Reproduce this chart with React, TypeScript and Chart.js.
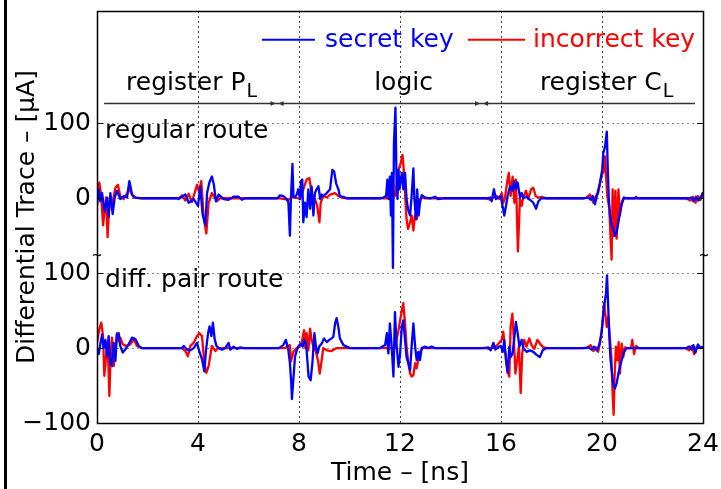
import React, { useEffect, useRef } from "react";
import { Chart, registerables } from "chart.js";

Chart.register(...registerables);

// ---------------- DATA (time in ns, differential trace in µA) ----------------
// regular route (upper trace), secret key (blue)
const regularSecret: [number, number][] = [
  [0, -10], [0.07, 12], [0.13, -4], [0.2, 7], [0.3, -17], [0.4, 1], [0.46, -25], [0.53, 7], [0.62, -21], [0.7, 1],
  [0.79, 10], [0.92, -1], [1.06, 3], [1.19, 1], [1.28, 23], [1.39, 5], [1.52, 1], [1.78, 0],
  [3.17, 0], [3.23, -1], [3.5, 5], [3.63, -6], [3.83, -1], [4.0, -10], [4.09, 16], [4.18, -21], [4.29, -36], [4.36, 7],
  [4.45, 21], [4.55, 29], [4.63, 18], [4.71, -4], [4.82, 5], [5.02, -1], [5.21, -2], [5.41, 2], [5.61, 2], [5.74, -2], [5.87, 0],
  [7.15, 0], [7.25, 4], [7.38, 3], [7.51, -1], [7.58, -6], [7.64, -50], [7.68, -1], [7.74, 46], [7.78, 3], [7.84, 1],
  [7.91, 5], [7.97, 12], [8.04, -1], [8.08, 23], [8.13, 25], [8.17, -32], [8.24, -6], [8.3, -25], [8.37, 12], [8.44, -14],
  [8.5, 16], [8.57, -23], [8.63, 7], [8.7, 12], [8.77, 16], [8.84, -1], [8.9, 5], [8.96, 3], [9.1, 7], [9.23, 12],
  [9.32, 38], [9.39, 36], [9.47, 20], [9.56, 12], [9.62, 3], [9.75, 2], [9.89, 0],
  [11.21, 0], [11.34, 1], [11.45, 3], [11.5, 25], [11.55, -1], [11.6, 29], [11.64, -23], [11.68, 34], [11.72, -93],
  [11.76, 73], [11.82, 121], [11.86, 29], [11.9, -1], [11.94, 38], [11.98, 12], [12.03, 25], [12.08, 34], [12.13, 12],
  [12.2, 34], [12.26, -1], [12.32, -15], [12.4, -23], [12.46, 3], [12.53, 40], [12.57, -1], [12.63, -28], [12.68, 12],
  [12.74, -23], [12.79, -6], [12.86, 4], [12.99, 1], [13.2, 0], [13.4, 2], [13.5, -1], [13.7, 0],
  [15.43, 0], [15.56, 1], [15.63, -4], [15.72, 12], [15.8, -1], [15.89, 1], [15.99, 3], [16.06, -10], [16.13, -23],
  [16.2, -10], [16.26, 3], [16.36, 16], [16.45, 10], [16.53, 23], [16.59, 12], [16.66, 21], [16.75, 1], [16.82, 7],
  [16.88, 0], [17.01, 2], [17.15, -2], [17.28, -6], [17.39, -14], [17.48, -4], [17.61, 0],
  [19.26, 0], [19.46, 1], [19.55, -2], [19.63, 3], [19.72, -8], [19.81, 5], [19.92, 21], [20.01, 38], [20.05, 60],
  [20.12, 69], [20.19, 89], [20.23, 38], [20.27, -1], [20.32, -23], [20.38, -36], [20.45, -41], [20.51, -50],
  [20.58, -45], [20.65, -32], [20.71, -19], [20.78, -8], [20.87, 1], [20.98, 0],
  [23.4, 0], [23.55, 1], [23.62, -4], [23.72, 2], [23.82, -3], [23.9, 1], [23.96, 5], [24, 8],
];

// regular route (upper trace), incorrect key (red)
const regularWrong: [number, number][] = [
  [0, 12], [0.09, 21], [0.16, 5], [0.24, -36], [0.36, 1], [0.42, -52], [0.49, -5], [0.59, -10], [0.73, 14], [0.83, 18],
  [0.92, 3], [1.06, -1], [1.28, 12], [1.45, 1], [1.78, 0],
  [3.23, 0], [3.37, 4], [3.5, -3], [3.63, 6], [3.76, -5], [3.96, 18], [4.04, 8], [4.13, 23], [4.22, -23], [4.33, -47],
  [4.42, -6], [4.55, 7], [4.75, -4], [4.88, 0],
  [7.25, 0], [7.6, -2], [7.75, 2], [8.04, -1], [8.17, 12], [8.3, 25], [8.41, 27], [8.5, 7], [8.63, -1], [8.72, -10],
  [8.81, -32], [8.86, -6], [8.96, 3], [9.1, 1], [9.23, 5], [9.43, 7], [9.56, 3], [9.69, 1], [9.89, 0],
  [11.3, 0], [11.6, 0], [11.8, 3], [11.94, 38], [12.03, 47], [12.1, 58], [12.16, 34], [12.21, -1], [12.26, -28],
  [12.32, -41], [12.4, -32], [12.46, -23], [12.53, -43], [12.59, -23], [12.66, -28], [12.72, -15], [12.79, -1],
  [12.86, 1], [13.0, 0],
  [15.4, 0], [15.56, -2], [15.83, 3], [15.93, -1], [16.03, 7], [16.09, -6], [16.16, 1], [16.25, 23], [16.31, 34],
  [16.38, 3], [16.46, 29], [16.53, -6], [16.59, 25], [16.67, -71], [16.75, -1], [16.82, -10], [16.88, 1], [16.99, 10],
  [17.08, -1], [17.19, 12], [17.28, 14], [17.37, 3], [17.48, 1], [17.61, 2], [17.81, 0],
  [19.26, 0], [19.39, 1], [19.52, 5], [19.66, -6], [19.76, 3], [19.85, 7], [19.99, 32], [20.05, 34], [20.12, 56],
  [20.16, 29], [20.21, 3], [20.29, -14], [20.34, -54], [20.38, -82], [20.42, 12], [20.47, -50], [20.53, 10],
  [20.58, -54], [20.65, 12], [20.71, -23], [20.78, -6], [20.84, 0], [21.3, 0], [21.35, 2], [21.4, 0],
  [23.3, 0], [23.5, -3], [23.6, 2], [23.7, -6], [23.8, 3], [23.9, -2], [24, 5],
];

// differential pair route (lower trace), secret key (blue)
const diffSecret: [number, number][] = [
  [0, -2], [0.07, -8], [0.13, 5], [0.2, 18], [0.26, 0], [0.33, 11], [0.4, -11], [0.46, 16], [0.53, -20], [0.59, -24],
  [0.66, 7], [0.73, -17], [0.79, 18], [0.86, 20], [0.92, 3], [1.02, -6], [1.12, -2], [1.25, 5], [1.39, 14], [1.52, 12],
  [1.65, 3], [1.78, 0],
  [3.37, 0], [3.43, 3], [3.56, -2], [3.7, -3], [3.83, 0], [3.96, 7], [4.05, -4], [4.16, -15], [4.25, -31], [4.32, -2],
  [4.4, 20], [4.46, 29], [4.53, 16], [4.59, 34], [4.66, 12], [4.73, 3], [4.82, 0], [4.95, -2], [5.08, 0], [5.21, 7],
  [5.28, -2], [5.41, 2], [5.54, -1], [5.68, 1], [5.81, 0],
  [7.2, 0], [7.38, 4], [7.48, 11], [7.58, -3], [7.64, -20], [7.69, -45], [7.72, -68], [7.78, -40], [7.84, -12],
  [7.91, -3], [7.97, 2], [8.07, 6], [8.15, 2], [8.2, 11], [8.28, 6], [8.33, -16], [8.38, -38], [8.46, -43], [8.53, -20],
  [8.61, 20], [8.67, 2], [8.74, -7], [8.8, 2], [8.9, 6], [8.99, 13], [9.1, 8], [9.2, 11], [9.29, 13], [9.36, 15],
  [9.43, 33], [9.49, 40], [9.56, 28], [9.62, 13], [9.76, 4], [9.89, 2], [10.02, 0],
  [11.21, 0], [11.41, 4], [11.48, 20], [11.54, -7], [11.6, 33], [11.67, 2], [11.74, -38], [11.8, 48], [11.87, 2],
  [11.94, -25], [12.0, -9], [12.07, 28], [12.13, 37], [12.2, 11], [12.26, -12], [12.33, -20], [12.4, -29], [12.46, 2],
  [12.53, 33], [12.6, 2], [12.66, -16], [12.73, -5], [12.79, -16], [12.86, 0], [12.99, 2], [13.12, 0], [13.25, 2],
  [13.39, 0],
  [15.3, 0], [15.5, 1], [15.59, -3], [15.7, 7], [15.78, -2], [15.89, 1], [15.99, 3], [16.07, -5], [16.13, 11],
  [16.2, -16], [16.26, -33], [16.33, 2], [16.38, -12], [16.46, -7], [16.53, 15], [16.59, 35], [16.66, 20], [16.73, 2],
  [16.82, 11], [16.88, 0], [17.01, -5], [17.15, -3], [17.28, -5], [17.41, -9], [17.54, -12], [17.65, -3], [17.81, 0],
  [19.26, 0], [19.46, 1], [19.59, -2], [19.68, 2], [19.79, -3], [19.89, 4], [19.99, 22], [20.05, 46], [20.11, 62],
  [20.16, 73], [20.2, 97], [20.24, 60], [20.29, 15], [20.34, -16], [20.4, -34], [20.45, -49], [20.51, -54],
  [20.58, -47], [20.65, -34], [20.71, -25], [20.78, -16], [20.87, -5], [20.98, 0],
  [23.35, 0], [23.45, 2], [23.55, -2], [23.62, 4], [23.7, -6], [23.8, 5], [23.9, 0], [24, 2],
];

// differential pair route (lower trace), incorrect key (red)
const diffWrong: [number, number][] = [
  [0, 7], [0.09, 25], [0.17, 34], [0.24, 16], [0.29, -37], [0.36, -11], [0.42, 9], [0.49, -64], [0.54, -11], [0.59, 14],
  [0.66, -24], [0.73, 0], [0.79, 20], [0.86, 9], [0.92, 14], [1.02, 5], [1.12, 3], [1.32, 5], [1.45, 12], [1.58, 3],
  [1.78, 0],
  [3.37, 0], [3.5, -4], [3.6, -11], [3.7, 3], [3.83, 7], [3.96, 16], [4.05, 20], [4.16, 16], [4.25, -20], [4.33, -33],
  [4.42, -24], [4.55, 3], [4.69, -4], [4.79, 0],
  [7.45, 0], [7.64, 4], [7.68, -18], [7.78, -5], [7.91, 0], [8.04, 2], [8.11, 8], [8.2, 24], [8.25, 0], [8.3, 20],
  [8.37, -3], [8.44, 26], [8.5, 11], [8.57, 2], [8.67, -5], [8.76, -18], [8.82, -34], [8.9, -16], [8.96, 0], [9.1, -3],
  [9.29, -4], [9.49, 0], [9.62, 0],
  [11.5, 0], [11.8, 0], [11.94, 24], [12.03, 42], [12.13, 60], [12.2, 33], [12.26, 2], [12.33, -20], [12.4, -34],
  [12.46, -38], [12.53, -36], [12.6, -20], [12.66, -27], [12.73, -14], [12.79, -5], [12.9, 0],
  [15.4, 0], [15.56, -1], [15.83, 3], [16.03, 11], [16.09, 22], [16.16, -3], [16.25, -29], [16.33, -38], [16.38, 28],
  [16.45, 46], [16.51, 11], [16.57, -34], [16.64, -16], [16.71, 2], [16.78, -60], [16.84, -7], [16.92, 11], [17.01, 2],
  [17.12, 13], [17.21, 4], [17.32, -1], [17.44, 11], [17.54, 6], [17.68, 1], [17.87, 0],
  [19.3, 0], [19.39, 0], [19.55, 4], [19.66, -4], [19.76, 1], [19.85, -5], [19.96, 15], [20.03, 37], [20.08, 60],
  [20.13, 46], [20.19, 28], [20.25, 42], [20.32, 11], [20.37, -12], [20.42, -60], [20.46, -89], [20.5, -38],
  [20.55, 2], [20.61, -16], [20.66, 8], [20.71, -34], [20.78, 6], [20.84, -12], [20.91, 1], [21.0, 0], [21.15, 0],
  [21.2, 11], [21.27, -8], [21.35, 3], [21.45, 0],
  [23.3, 0], [23.45, -3], [23.55, 3], [23.65, -8], [23.75, 2], [23.85, 0], [24, 1],
];

// the regular-route trace is drawn shifted up by this many µA
const regularRouteOffset = 200;

const xTickStep = 4;
const xRange = [0, 24];
const yRange = [-100, 450];
const yTickValues = [-100, 0, 100, 200, 300];
const yTickLabels = ["\u2212100", "0", "100", "0", "100"];

const seriesNames = ["secret key", "incorrect key"];
const phaseNames = [
  { text: "register P", sub: "L", t: 1.15, align: "left" },
  { text: "logic", sub: "", t: 12.14, align: "center" },
  { text: "register C", sub: "L", t: 17.54, align: "left" },
];
const routeNames = [
  { text: "regular route", t: 0.32, level: 280 },
  { text: "diff. pair route", t: 0.32, level: 82 },
];
const phaseBoundaries = [7.13, 15.23];

// ---------------- STYLE / LAYOUT ----------------
const BLUE = "#0000ff";
const RED = "#ff0000";
const FONT = "DejaVu Sans";

const overlayPlugin = {
  id: "overlay",
  afterDatasetsDraw(chart: any) {
    const { ctx, scales } = chart;
    const X = (t: number) => scales.x.getPixelForValue(t);
    const Y = (v: number) => scales.y.getPixelForValue(v);
    ctx.save();

    // phase separator line with arrows
    const lineY = Math.round(Y(327)) + 0.5;
    ctx.strokeStyle = "#333";
    ctx.fillStyle = "#333";
    ctx.lineWidth = 1.5;
    ctx.beginPath();
    ctx.moveTo(X(0.28), lineY);
    ctx.lineTo(X(23.68), lineY);
    ctx.stroke();
    for (const b of phaseBoundaries) {
      const bx = X(b);
      ctx.beginPath();
      ctx.moveTo(bx - 1.5, lineY);
      ctx.lineTo(bx - 6.5, lineY - 2.5);
      ctx.lineTo(bx - 6.5, lineY + 2.5);
      ctx.closePath();
      ctx.fill();
      ctx.beginPath();
      ctx.moveTo(bx + 1.5, lineY);
      ctx.lineTo(bx + 6.5, lineY - 2.5);
      ctx.lineTo(bx + 6.5, lineY + 2.5);
      ctx.closePath();
      ctx.fill();
    }

    // phase labels
    ctx.fillStyle = "#000";
    ctx.textBaseline = "alphabetic";
    const baseY = Y(345);
    for (const p of phaseNames) {
      ctx.font = `25px '${FONT}'`;
      const w = ctx.measureText(p.text).width;
      let x0 = X(p.t);
      if (p.align === "center") x0 -= w / 2;
      ctx.textAlign = "left";
      ctx.fillText(p.text, x0, baseY);
      if (p.sub) {
        ctx.font = `19px '${FONT}'`;
        ctx.fillText(p.sub, x0 + w + 1, baseY + 7);
      }
    }

    // route labels
    ctx.font = `25px '${FONT}'`;
    for (const r of routeNames) {
      ctx.fillText(r.text, X(r.t), Y(r.level));
    }

    // legend
    const legY = Y(411.5);
    const legText = Y(401.5);
    const entries = [
      { name: seriesNames[0], color: BLUE, l0: 6.53, l1: 8.63, tx: 9.03 },
      { name: seriesNames[1], color: RED, l0: 14.69, l1: 16.95, tx: 17.27 },
    ];
    ctx.lineWidth = 2;
    for (const e of entries) {
      ctx.strokeStyle = e.color;
      ctx.beginPath();
      ctx.moveTo(X(e.l0), legY);
      ctx.lineTo(X(e.l1), legY);
      ctx.stroke();
      ctx.fillStyle = e.color;
      ctx.fillText(e.name, X(e.tx), legText);
    }
    ctx.restore();
  },
  afterDraw(chart: any) {
    const { ctx, chartArea: a, scales } = chart;
    const Y = (v: number) => scales.y.getPixelForValue(v);
    ctx.save();
    ctx.strokeStyle = "#000";
    ctx.lineWidth = 1.5;
    ctx.strokeRect(Math.round(a.left) + 0.5, Math.round(a.top) + 0.5, Math.round(a.right - a.left), Math.round(a.bottom - a.top));
    // inward y ticks
    ctx.lineWidth = 1;
    for (const v of yTickValues) {
      const y = Math.round(Y(v)) + 0.5;
      ctx.beginPath();
      ctx.moveTo(a.left, y);
      ctx.lineTo(a.left + 6, y);
      ctx.moveTo(a.right, y);
      ctx.lineTo(a.right - 6, y);
      ctx.stroke();
    }
    // axis break marks
    ctx.fillStyle = "#000";
    ctx.font = `bold 13px '${FONT}'`;
    ctx.textAlign = "center";
    ctx.textBaseline = "middle";
    ctx.fillText("~", a.left, Y(124));
    ctx.fillText("~", a.right + 1, Y(124));
    ctx.restore();
  },
};

export default function App() {
  const ref = useRef<HTMLCanvasElement>(null);
  useEffect(() => {
    Chart.defaults.font.family = FONT;
    Chart.defaults.color = "#000";
    const mk = (pts: [number, number][], off: number) => pts.map(([t, v]) => ({ x: t, y: v + off }));
    const chart = new Chart(ref.current as HTMLCanvasElement, {
      type: "line",
      data: {
        datasets: [
          { label: seriesNames[0], data: mk(regularSecret, regularRouteOffset), borderColor: BLUE },
          { label: seriesNames[0], data: mk(diffSecret, 0), borderColor: BLUE },
          { label: seriesNames[1], data: mk(regularWrong, regularRouteOffset), borderColor: RED },
          { label: seriesNames[1], data: mk(diffWrong, 0), borderColor: RED },
        ].map((d) => ({
          ...d,
          borderWidth: 2.3,
          pointRadius: 0,
          tension: 0,
          fill: false,
          borderJoinStyle: "round" as const,
        })),
      },
      options: {
        responsive: false,
        devicePixelRatio: 1,
        animation: false,
        events: [],
        layout: { padding: { top: 11, right: 18, left: 0, bottom: 0 } },
        plugins: { legend: { display: false }, tooltip: { enabled: false } },
        scales: {
          x: {
            type: "linear",
            min: xRange[0],
            max: xRange[1],
            ticks: { stepSize: xTickStep, font: { size: 25, family: FONT }, color: "#000", padding: 6, maxRotation: 0 },
            grid: { color: "#444", lineWidth: 1, drawTicks: false },
            border: { display: false, dash: [2, 3] },
            title: { display: true, text: "Time \u2013 [ns]", font: { size: 25, family: FONT }, color: "#000", padding: { top: 0, bottom: 1 } },
            afterFit: (s: any) => {
              s.height = 66;
              s.paddingLeft = 0;
              s.paddingRight = 0;
            },
          },
          y: {
            type: "linear",
            min: yRange[0],
            max: yRange[1],
            afterBuildTicks: (s: any) => {
              s.ticks = yTickValues.map((value) => ({ value }));
            },
            ticks: {
              font: { size: 25, family: FONT },
              color: "#000",
              padding: 6,
              callback: (v: any) => {
                const i = yTickValues.indexOf(Number(v));
                return i >= 0 ? yTickLabels[i] : "";
              },
            },
            grid: { color: "#888", lineWidth: 1, drawTicks: false },
            border: { display: false, dash: [2, 3] },
            title: { display: true, text: "Differential Trace \u2013 [\u00b5A]", font: { size: 25, family: FONT }, color: "#000", padding: { top: 12, bottom: 0 } },
            afterFit: (s: any) => {
              s.width = 97;
              s.paddingTop = 0;
              s.paddingBottom = 0;
            },
          },
        },
      },
      plugins: [overlayPlugin],
    } as any);
    return () => chart.destroy();
  }, []);
  return (
    <div style={{ position: "fixed", left: 0, top: 0, width: 721, height: 489, background: "#fff", overflow: "hidden" }}>
      <canvas ref={ref} width={721} height={489} style={{ position: "absolute", left: 0, top: 0, width: 721, height: 489 }} />
      <div style={{ position: "absolute", left: 4, top: 0, width: 3, height: 489, background: "#000" }} />
    </div>
  );
}
